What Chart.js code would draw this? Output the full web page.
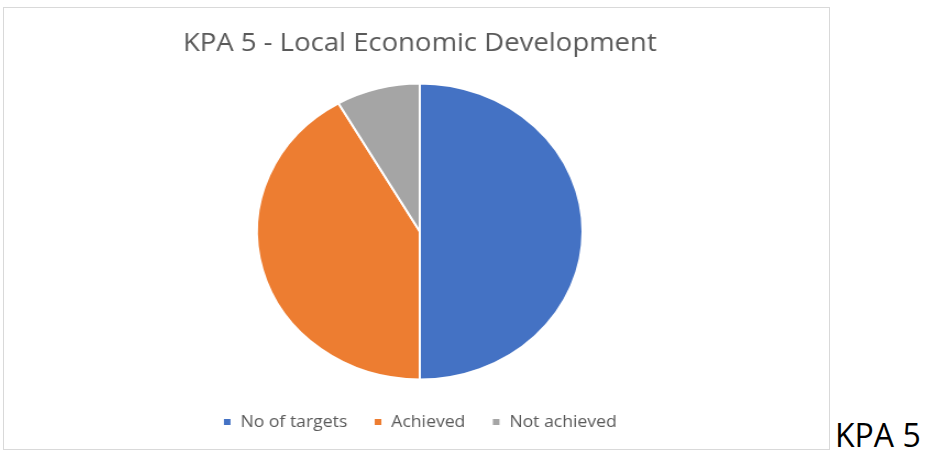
<!DOCTYPE html>
<html>
<head>
<meta charset="utf-8">
<script src="https://cdn.jsdelivr.net/npm/chart.js@4"></script>
<style>
  html, body { margin: 0; padding: 0; background: #fff; }
  body { width: 930px; height: 451px; position: relative; overflow: hidden; }
  #box {
    position: absolute; left: 3px; top: 7px;
    width: 825px; height: 441px;
    border: 1px solid #d9d9d9; overflow: hidden;
  }
  #wrap {
    position: absolute; left: 0; top: 0;
    width: 750px; height: 441px;
    transform: scaleX(1.1); transform-origin: 0 0;
  }
  #side {
    position: absolute; left: 835px; top: 419px;
    font-family: "Open Sans", sans-serif; font-size: 32px; color: #000;
    line-height: 1;
  }
</style>
</head>
<body>
<div id="box"><div id="wrap"><canvas id="kpaChart"></canvas></div></div>
<div id="side">KPA 5</div>
<script>
const categories = ['No of targets', 'Achieved', 'Not achieved'];
const values = [12, 10, 2];
const colours = ['#4472C4', '#ED7D31', '#A5A5A5'];

const ctx = document.getElementById('kpaChart').getContext('2d');

const kpaChart = new Chart(ctx, {
    type: 'pie',
    data: {
        labels: categories,
        datasets: [
            {
                data: values,
                backgroundColor: colours,
                borderColor: '#ffffff',
                borderWidth: 2,
                radius: 148
            }
        ]
    },
    options: {
        responsive: true,
        maintainAspectRatio: false,
        animation: false,
        layout: {
            padding: { left: 6, right: 0, top: 0, bottom: 9 }
        },
        plugins: {
            title: {
                display: true,
                text: 'KPA 5 - Local Economic Development',
                color: '#595959',
                font: { family: 'Open Sans', size: 25, weight: 'normal' },
                padding: { top: 21, bottom: 14 }
            },
            legend: {
                position: 'bottom',
                labels: {
                    color: '#595959',
                    font: { family: 'Open Sans', size: 16 },
                    boxWidth: 8,
                    boxHeight: 8,
                    padding: 24
                }
            },
            tooltip: { enabled: false }
        }
    }
});
</script>
</body>
</html>
